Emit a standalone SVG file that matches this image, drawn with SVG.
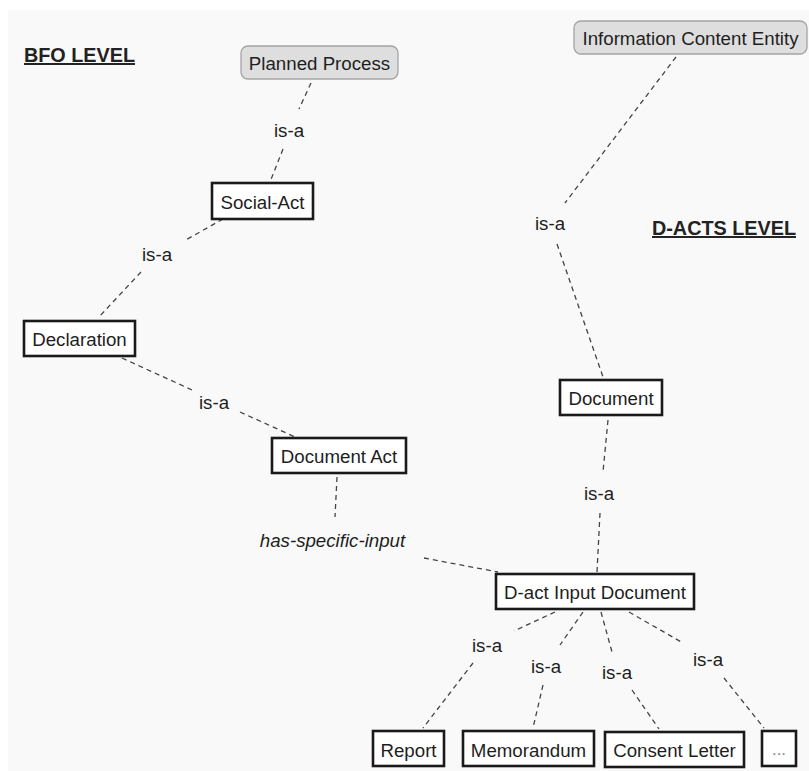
<svg xmlns="http://www.w3.org/2000/svg" width="809" height="771" viewBox="0 0 809 771">
<style>
  text { font-family: "Liberation Sans", Arial, sans-serif; font-size: 18.7px; fill: #1e1e1e; text-anchor: middle; }
  .lvl { font-weight: bold; font-size: 19.8px; text-decoration: underline; fill: #222; text-anchor: start; }
  .box { fill: #ffffff; stroke: #1a1a1a; stroke-width: 2.6; }
  .top { fill: #dedede; stroke: #a4a4a4; stroke-width: 1.3; }
  .lnk { stroke: #444; stroke-width: 1.3; stroke-dasharray: 5 4; fill: none; }
  .it { font-style: italic; }
  .dots { fill: #888; font-size: 17px; }
</style>
<rect x="8" y="10" width="801" height="761" fill="#f9f9f9"/>
<text class="lvl" x="24" y="62">BFO LEVEL</text>
<text class="lvl" x="652" y="235">D-ACTS LEVEL</text>
<g id="connectors">
  <line class="lnk" x1="311" y1="83" x2="299" y2="109"/>
  <line class="lnk" x1="283" y1="149" x2="270" y2="182"/>
  <line class="lnk" x1="223" y1="219" x2="184" y2="241"/>
  <line class="lnk" x1="141" y1="272" x2="98" y2="318"/>
  <line class="lnk" x1="122" y1="358" x2="192" y2="390"/>
  <line class="lnk" x1="240" y1="412" x2="295" y2="437"/>
  <line class="lnk" x1="337" y1="477" x2="335" y2="517"/>
  <line class="lnk" x1="424" y1="558" x2="498" y2="572"/>
  <line class="lnk" x1="676" y1="57" x2="565" y2="203"/>
  <line class="lnk" x1="557" y1="244" x2="603" y2="377"/>
  <line class="lnk" x1="608" y1="420" x2="603" y2="472"/>
  <line class="lnk" x1="600" y1="513" x2="597" y2="572"/>
  <line class="lnk" x1="555" y1="612" x2="514" y2="631"/>
  <line class="lnk" x1="473" y1="663" x2="423" y2="728"/>
  <line class="lnk" x1="583" y1="612" x2="560" y2="645"/>
  <line class="lnk" x1="543" y1="685" x2="533" y2="728"/>
  <line class="lnk" x1="601" y1="612" x2="612" y2="652"/>
  <line class="lnk" x1="632" y1="690" x2="659" y2="729"/>
  <line class="lnk" x1="629" y1="612" x2="683" y2="643"/>
  <line class="lnk" x1="724" y1="678" x2="764" y2="728"/>
  <text x="289" y="137">is-a</text>
  <text x="157" y="261">is-a</text>
  <text x="214" y="409">is-a</text>
  <text class="it" x="332.5" y="547">has-specific-input</text>
  <text x="550" y="230">is-a</text>
  <text x="599" y="500">is-a</text>
  <text x="487" y="652">is-a</text>
  <text x="546" y="673">is-a</text>
  <text x="617" y="679">is-a</text>
  <text x="708" y="666">is-a</text>
</g>
<g id="planned-process">
  <rect class="top" x="241" y="46" width="157" height="33" rx="7"/>
  <text x="319.5" y="70">Planned Process</text>
</g>
<g id="information-content-entity">
  <rect class="top" x="574" y="21" width="233" height="33" rx="7"/>
  <text x="690.5" y="45">Information Content Entity</text>
</g>
<g id="social-act">
  <rect class="box" x="212" y="183" width="101" height="36"/>
  <text x="262.5" y="208.5">Social-Act</text>
</g>
<g id="declaration">
  <rect class="box" x="24" y="321" width="111" height="35"/>
  <text x="79.5" y="345.5">Declaration</text>
</g>
<g id="document-act">
  <rect class="box" x="272" y="438" width="134" height="35"/>
  <text x="339" y="463">Document Act</text>
</g>
<g id="document">
  <rect class="box" x="560" y="380" width="102" height="35"/>
  <text x="611" y="405">Document</text>
</g>
<g id="d-act-input-document">
  <rect class="box" x="496" y="574" width="198" height="35"/>
  <text x="595" y="599">D-act Input Document</text>
</g>
<g id="report">
  <rect class="box" x="373" y="731" width="71" height="35"/>
  <text x="408.5" y="756.5">Report</text>
</g>
<g id="memorandum">
  <rect class="box" x="463" y="731" width="131" height="35"/>
  <text x="528.5" y="756.5">Memorandum</text>
</g>
<g id="consent-letter">
  <rect class="box" x="605" y="732" width="139" height="35"/>
  <text x="674.5" y="757">Consent Letter</text>
</g>
<g id="more">
  <rect class="box" x="762" y="731" width="34" height="35"/>
  <text class="dots" x="779" y="755">...</text>
</g>
</svg>
